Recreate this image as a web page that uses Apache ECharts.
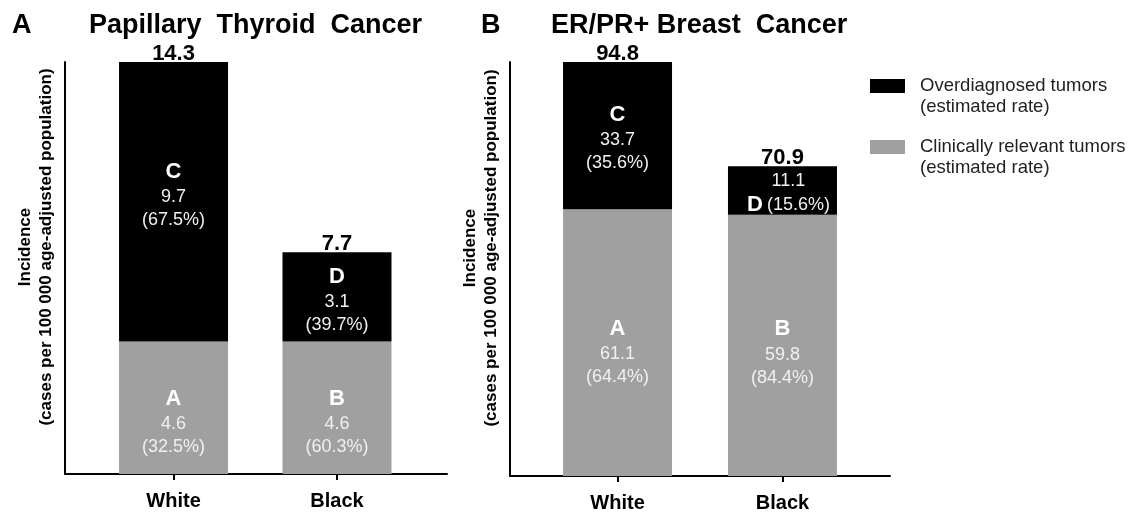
<!DOCTYPE html>
<html><head><meta charset="utf-8">
<script src="https://cdn.jsdelivr.net/npm/echarts@6/dist/echarts.min.js"></script>
<style>html,body{margin:0;padding:0;background:#fff}#c{width:1143px;height:514px}</style>
</head><body><div id="c"></div>
<script>
// ---- data ----
const categories = ['White', 'Black'];
const thyroidRelevant = [4.6, 4.6];
const thyroidOver = [9.7, 3.1];
const thyroidTotal = [14.3, 7.7];
const thyroidRelevantPct = ['32.5%', '60.3%'];
const thyroidOverPct = ['67.5%', '39.7%'];
const breastRelevant = [61.1, 59.8];
const breastOver = [33.7, 11.1];
const breastTotal = [94.8, 70.9];
const breastRelevantPct = ['64.4%', '84.4%'];
const breastOverPct = ['35.6%', '15.6%'];
const relevantLetters = ['A', 'B'];
const overLetters = ['C', 'D'];
const panelTitles = ['Papillary  Thyroid  Cancer', 'ER/PR+ Breast  Cancer'];
const panelLetters = ['A', 'B'];
const yName = 'Incidence\n(cases per 100 000 age-adjusted population)';
const overName = 'Overdiagnosed tumors\n(estimated rate)';
const relName = 'Clinically relevant tumors\n(estimated rate)';

const FONT = '"Liberation Sans", Arial, Helvetica, sans-serif';
const BLACK = '#000000', GREY = '#a0a0a0';
const rich = {
  L: {fontFamily: FONT, fontSize: 22, fontWeight: 'bold', color: '#ffffff', lineHeight: 28},
  L2: {fontFamily: FONT, fontSize: 22, fontWeight: 'bold', color: '#ffffff', lineHeight: 26, padding: [0, 4, 0, 0]},
  n: {fontFamily: FONT, fontSize: 18, color: '#f0f0f0', lineHeight: 23}
};

function segLabel(letter, v, pct) {
  return '{L|' + letter + '}\n{n|' + v + '}\n{n|(' + pct + ')}';
}

// data items are [value, categoryIndex]; encode maps dim 0 -> y so stacking acts on y
function buildPanel(idx, rel, over, total, relPct, overPct, offsets) {
  const relSeries = {
    name: relName, type: 'bar', stack: 'p' + idx, xAxisIndex: idx, yAxisIndex: idx,
    encode: {x: 1, y: 0},
    barWidth: 109, itemStyle: {color: GREY},
    data: rel.map((v, i) => ({
      value: [v, i],
      label: {show: true, position: 'inside', offset: offsets.rel[i], rich,
        formatter: segLabel(relevantLetters[i], v, relPct[i])}
    }))
  };
  const overSeries = {
    name: overName, type: 'bar', stack: 'p' + idx, xAxisIndex: idx, yAxisIndex: idx,
    encode: {x: 1, y: 0},
    barWidth: 109, itemStyle: {color: BLACK},
    data: over.map((v, i) => {
      const special = offsets.overSpecial && offsets.overSpecial[i];
      return {
        value: [v, i],
        label: {show: true, position: 'inside', offset: offsets.over[i], rich,
          formatter: special
            ? '{n|' + v + '}\n{L2|' + overLetters[i] + '}{n|(' + overPct[i] + ')}'
            : segLabel(overLetters[i], v, overPct[i])}
      };
    })
  };
  const totSeries = {
    type: 'line', xAxisIndex: idx, yAxisIndex: idx, symbol: 'rect', symbolSize: 1,
    encode: {x: 1, y: 0},
    itemStyle: {color: 'transparent'}, lineStyle: {width: 0, opacity: 0}, z: 10,
    data: total.map((v, i) => [v, i]),
    label: {show: true, position: 'top', distance: 1, offset: [0, 4],
      formatter: p => total[p.dataIndex].toFixed(1),
      fontFamily: FONT, fontSize: 22, fontWeight: 'bold', color: '#000'}
  };
  return [relSeries, overSeries, totSeries];
}

const grids = [
  {left: 65, top: 62, width: 382, height: 412},
  {left: 510, top: 62, width: 380, height: 414}
];
const xRanges = [[-0.664, 1.673], [-0.652, 1.652]];
const yMax = [Math.max(...thyroidTotal), Math.max(...breastTotal)];

const xAxes = grids.map((g, k) => ({
  type: 'value', gridIndex: k, min: xRanges[k][0], max: xRanges[k][1],
  axisLine: {show: true, onZero: false, lineStyle: {color: '#000', width: 2}},
  axisTick: {show: true, customValues: [0, 1], length: 6, lineStyle: {color: '#000', width: 2}},
  axisLabel: {show: true, customValues: [0, 1], margin: 17,
    formatter: v => categories[Math.round(v)] || '',
    fontFamily: FONT, fontSize: 20, fontWeight: 'bold', color: '#000'},
  splitLine: {show: false}
}));
const yAxes = grids.map((g, k) => ({
  type: 'value', gridIndex: k, min: 0, max: yMax[k],
  axisLine: {show: true, onZero: false, lineStyle: {color: '#000', width: 2}},
  axisTick: {show: false}, axisLabel: {show: false}, splitLine: {show: false},
  name: yName, nameLocation: 'middle', nameRotate: 90, nameGap: 8,
  nameTextStyle: {fontFamily: FONT, fontSize: 17, fontWeight: 'bold', color: '#000',
    lineHeight: 21, padding: [0, 0, 0, 42]}
}));

const series = [].concat(
  buildPanel(0, thyroidRelevant, thyroidOver, thyroidTotal, thyroidRelevantPct, thyroidOverPct,
    {rel: [[0, 14], [0, 14]], over: [[0, -7], [0, 3]]}),
  buildPanel(1, breastRelevant, breastOver, breastTotal, breastRelevantPct, breastOverPct,
    {rel: [[0, 9], [0, 7]], over: [[0, 2], [6, 3]], overSpecial: [false, true]})
);

const titleStyle = {fontFamily: FONT, fontSize: 27, fontWeight: 'bold', color: '#000'};
const chart = echarts.init(document.getElementById('c'), null, {renderer: 'canvas'});
chart.setOption({
  animation: false,
  backgroundColor: '#fff',
  title: [
    {text: panelLetters[0], left: 12, top: 12, padding: 0, textStyle: titleStyle},
    {text: panelTitles[0], left: 89, top: 12, padding: 0, textStyle: titleStyle},
    {text: panelLetters[1], left: 481, top: 12, padding: 0, textStyle: titleStyle},
    {text: panelTitles[1], left: 551, top: 12, padding: 0, textStyle: titleStyle}
  ],
  legend: {
    data: [overName, relName], orient: 'vertical', left: 870, top: 54.5, padding: 0,
    itemWidth: 35, itemHeight: 14, itemGap: -2, icon: 'rect', selectedMode: false,
    itemStyle: {borderWidth: 0},
    formatter: n => ' \n' + n,
    textStyle: {fontFamily: FONT, fontSize: 18.5, lineHeight: 21, color: '#222', padding: [0, 0, 0, 10]}
  },
  grid: grids,
  xAxis: xAxes,
  yAxis: yAxes,
  series
});
</script></body></html>
